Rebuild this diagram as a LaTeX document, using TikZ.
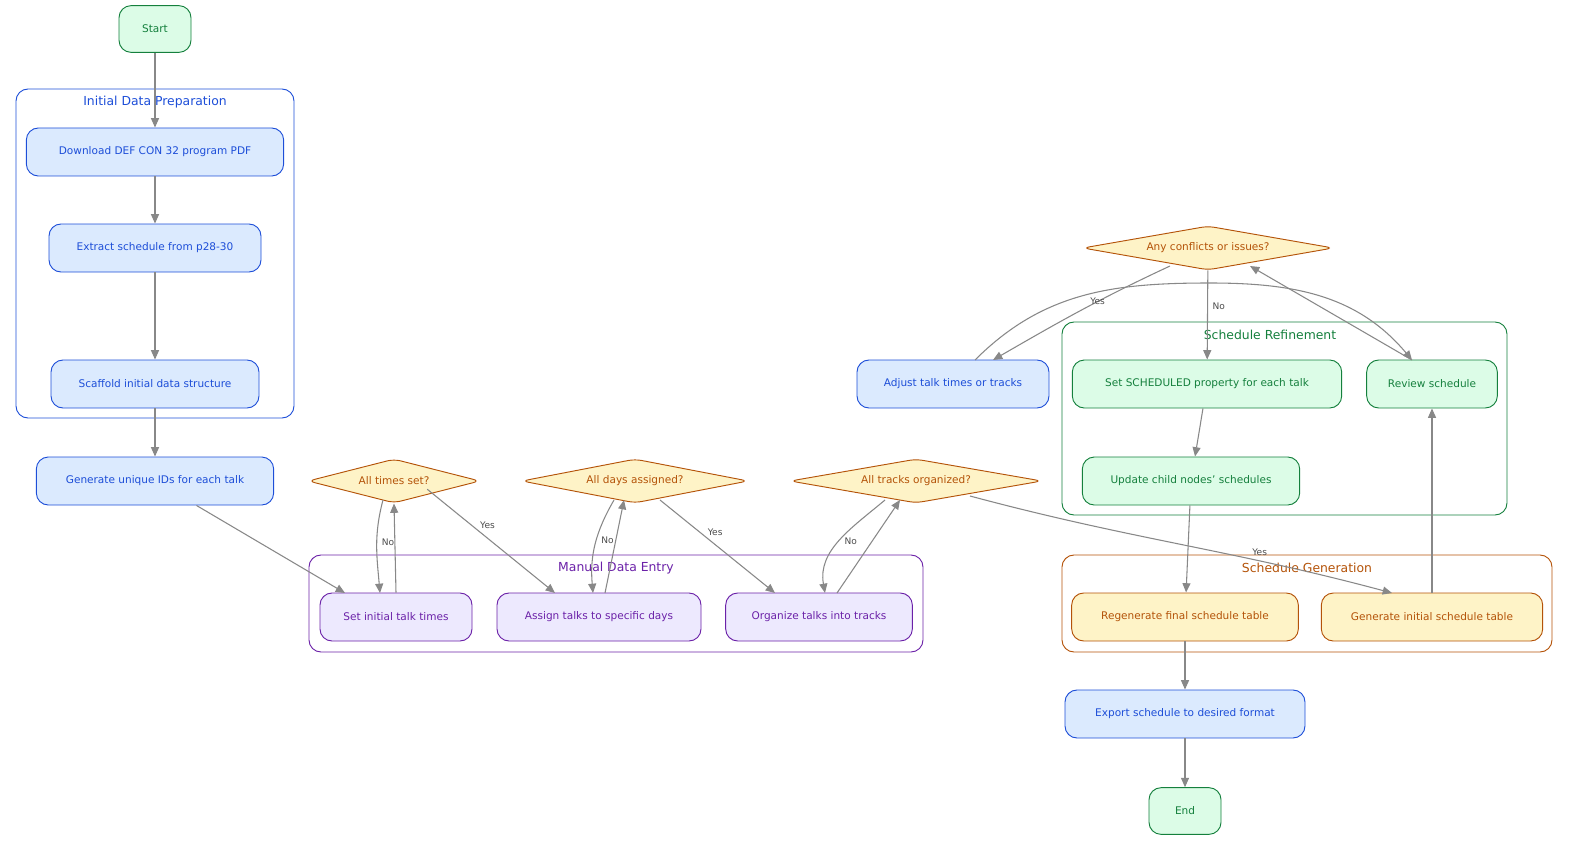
\documentclass[tikz,border=0pt]{standalone}
\usepackage{fontspec}
\setmainfont{DejaVu Sans}
\usetikzlibrary{shapes.geometric,arrows.meta}
\definecolor{bF}{HTML}{DBEAFE}\definecolor{bS}{HTML}{1D4ED8}
\definecolor{gF}{HTML}{DCFCE7}\definecolor{gS}{HTML}{15803D}
\definecolor{oF}{HTML}{FEF3C7}\definecolor{oS}{HTML}{B45309}
\definecolor{pF}{HTML}{EDE9FE}\definecolor{pS}{HTML}{6B21A8}
\definecolor{eC}{HTML}{888888}
\begin{document}
\begin{tikzpicture}[x={(0.75pt,0)},y={(0,-0.75pt)},
 font=\fontsize{7.9}{9}\selectfont,
 box/.style={rectangle,rounded corners=9pt,draw,line width=0.7pt,minimum height=36pt,inner sep=0pt},
 blue/.style={box,fill=bF,draw=bS,text=bS},
 green/.style={box,fill=gF,draw=gS,text=gS},
 orange/.style={box,fill=oF,draw=oS,text=oS},
 purple/.style={box,fill=pF,draw=pS,text=pS},
 dia/.style={diamond,aspect=5,draw=oS,fill=oF,text=oS,line width=0.7pt,inner sep=0pt,minimum height=33pt,rounded corners=5pt},
 clus/.style={draw,rounded corners=9pt,line width=0.7pt},
 ctitle/.style={font=\fontsize{9.3}{10}\selectfont},
 e/.style={draw=eC,line width=0.8pt,-{Triangle[length=7pt,width=6pt]},color=eC},
 lab/.style={font=\fontsize{6.8}{8}\selectfont,text=black!70,fill=none}]
\useasboundingbox (0,0) rectangle (1577,845);
% clusters
\draw[clus,draw=bS] (16,89) rectangle (294,418);
\node[ctitle,text=bS] (t1) at (155,102) {Initial Data Preparation};
\draw[clus,draw=pS] (309,555) rectangle (923,652);
\node[ctitle,text=pS] (t2) at (616,568) {Manual Data Entry};
\draw[clus,draw=gS] (1062,322) rectangle (1507,515);
\node[ctitle,text=gS] (t3) at (1270,335) {Schedule Refinement};
\draw[clus,draw=oS] (1062,555) rectangle (1552,652);
\node[ctitle,text=oS] (t4) at (1307,568) {Schedule Generation};
% nodes
\node[green,minimum width=54pt,minimum height=35pt] (start) at (155,29) {Start};
\node[blue,minimum width=193pt] (dl) at (155,152) {Download DEF CON 32 program PDF};
\node[blue,minimum width=159pt] (ex) at (155,248) {Extract schedule from p28-30};
\node[blue,minimum width=156pt] (sc) at (155,384) {Scaffold initial data structure};
\node[blue,minimum width=178pt] (gid) at (155,481) {Generate unique IDs for each talk};
\node[dia,minimum width=129pt] (at) at (394,481) {All times set?};
\node[dia,minimum width=170pt] (ad) at (635,481) {All days assigned?};
\node[dia,minimum width=189pt] (atr) at (916,481) {All tracks organized?};
\node[purple,minimum width=114pt] (st) at (396,617) {Set initial talk times};
\node[purple,minimum width=153pt] (as) at (599,617) {Assign talks to specific days};
\node[purple,minimum width=140pt] (or) at (819,617) {Organize talks into tracks};
\node[dia,minimum width=188pt] (ac) at (1208,248) {Any conflicts or issues?};
\node[blue,minimum width=144pt] (adj) at (953,384) {Adjust talk times or tracks};
\node[green,minimum width=202pt] (ss) at (1207,384) {Set SCHEDULED property for each talk};
\node[green,minimum width=98pt] (rv) at (1432,384) {Review schedule};
\node[green,minimum width=163pt] (up) at (1191,481) {Update child nodes' schedules};
\node[orange,minimum width=170pt] (rg) at (1185,617) {Regenerate final schedule table};
\node[orange,minimum width=166pt] (gi) at (1432,617) {Generate initial schedule table};
\node[blue,minimum width=180pt] (exp) at (1185,714) {Export schedule to desired format};
\node[green,minimum width=54pt,minimum height=35pt] (end) at (1185,811) {End};
\coordinate (c1) at (383,500); \coordinate (c2) at (380,593);
\coordinate (c3) at (614,500); \coordinate (c4) at (593,593);
\coordinate (c5) at (885,500); \coordinate (c6) at (825,593);
\coordinate (c7) at (1170,266); \coordinate (c8) at (1250,266);
\coordinate (c9) at (975,360);
% edges
\draw[e] (start) -- (dl);
\draw[e] (dl) -- (ex);
\draw[e] (ex) -- (sc);
\draw[e] (sc) -- (gid);
\draw[e] (gid) -- (345,593);
\draw[e] (st.north) -- (at.south);
\draw[e] (c1) to[out=-105,in=95] node[lab,right,pos=0.45]{No} (c2);
\draw[e] (at.south east) ++(-10,-3) -- node[lab,above right,pos=0.4,inner sep=1pt]{Yes} (555,593);
\draw[e] (605,593) -- (624,500);
\draw[e] (c3) to[out=-120,in=95] node[lab,right,pos=0.45]{No} (c4);
\draw[e] (660,500) -- node[lab,above right,pos=0.4,inner sep=1pt]{Yes} (775,593);
\draw[e] (837,593) -- (900,500);
\draw[e] (c5) to[out=-140,in=100] node[lab,right,pos=0.5]{No} (c6);
\draw[e] (970,496) to[out=-15,in=165] node[lab,above,pos=0.7]{Yes} (1392,593);
\draw[e] (gi) -- (rv);
\draw[e] (1412,360) -- (c8);
\draw[e] (c7) to[out=-155,in=30] node[lab,above right,pos=0.45,inner sep=1pt]{Yes} (993,360);
\draw[e] (ac) -- node[lab,right,pos=0.4]{No} (ss);
\draw[e] (c9) to[out=45,in=180] (1210,283) to[out=0,in=130] (1412,360);
\draw[e] (ss) -- (up);
\draw[e] (up) -- (rg);
\draw[e] (rg) -- (exp);
\draw[e] (exp) -- (end);
\end{tikzpicture}
\end{document}
